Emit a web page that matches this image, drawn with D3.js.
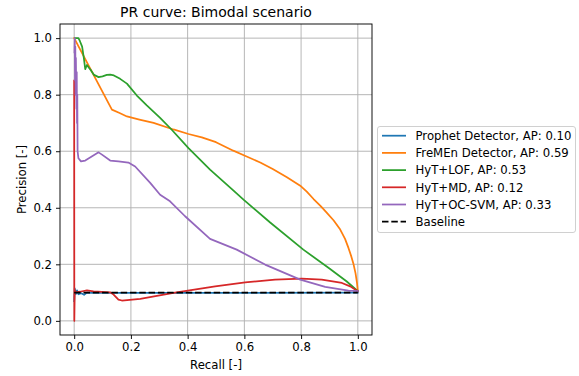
<!DOCTYPE html>
<html><head><meta charset="utf-8">
<script src="https://cdn.jsdelivr.net/npm/d3@7"></script>
<style>body{margin:0;background:#fff}svg{display:block;font-family:"DejaVu Sans",sans-serif}</style>
</head><body><svg id="c" width="579" height="376"></svg>
<script>
const title = "PR curve: Bimodal scenario";
const xLabel = "Recall [-]";
const yLabel = "Precision [-]";
const xTicks = [0, 0.2, 0.4, 0.6, 0.8, 1.0];
const yTicks = [0, 0.2, 0.4, 0.6, 0.8, 1.0];
const seriesNames = ["Prophet Detector, AP: 0.10","FreMEn Detector, AP: 0.59","HyT+LOF, AP: 0.53","HyT+MD, AP: 0.12","HyT+OC-SVM, AP: 0.33","Baseline"];
const seriesColors = ["#1f77b4","#ff7f0e","#2ca02c","#d62728","#9467bd","#000000"];

const prophet = [[0,0.07],[0.002,0.115],[0.006,0.095],[0.01,0.108],[0.015,0.094],[0.025,0.098],[0.035,0.092],[0.045,0.1],[0.1,0.099],[0.3,0.099],[0.6,0.099],[1.0,0.1]];
const fremen = [[0,1.0],[0.133,0.747],[0.16,0.735],[0.186,0.723],[0.23,0.712],[0.28,0.70],[0.35,0.677],[0.403,0.661],[0.45,0.649],[0.5,0.632],[0.561,0.602],[0.6,0.585],[0.656,0.56],[0.7,0.537],[0.75,0.508],[0.797,0.478],[0.82,0.457],[0.844,0.431],[0.87,0.405],[0.891,0.382],[0.915,0.355],[0.938,0.323],[0.955,0.29],[0.967,0.258],[0.977,0.228],[0.985,0.2],[0.992,0.168],[0.997,0.135],[1.0,0.105]];
const lof = [[0.003,1.0],[0.015,1.0],[0.02,0.99],[0.028,0.97],[0.034,0.93],[0.039,0.89],[0.045,0.905],[0.052,0.895],[0.06,0.885],[0.07,0.87],[0.086,0.862],[0.1,0.865],[0.115,0.87],[0.127,0.871],[0.14,0.868],[0.162,0.856],[0.186,0.839],[0.221,0.797],[0.256,0.762],[0.303,0.718],[0.344,0.676],[0.403,0.611],[0.479,0.535],[0.556,0.466],[0.597,0.429],[0.691,0.348],[0.808,0.252],[0.9,0.185],[0.96,0.14],[1.0,0.105]];
const md = [[0,0.85],[0.0005,0],[0.002,0.11],[0.004,0.101],[0.02,0.103],[0.045,0.108],[0.068,0.104],[0.127,0.101],[0.139,0.093],[0.156,0.075],[0.168,0.072],[0.233,0.078],[0.35,0.099],[0.497,0.122],[0.603,0.136],[0.708,0.146],[0.803,0.149],[0.873,0.146],[0.944,0.134],[0.973,0.122],[1.0,0.105]];
const ocsvm = [[0.001,0.95],[0.002,1.0],[0.003,0.85],[0.004,0.97],[0.005,0.80],[0.006,0.93],[0.008,0.75],[0.009,0.88],[0.010,0.70],[0.011,0.80],[0.012,0.60],[0.015,0.575],[0.024,0.564],[0.039,0.567],[0.086,0.596],[0.098,0.588],[0.127,0.567],[0.156,0.564],[0.191,0.56],[0.215,0.546],[0.268,0.488],[0.303,0.446],[0.338,0.423],[0.391,0.37],[0.479,0.29],[0.573,0.252],[0.673,0.199],[0.797,0.146],[0.885,0.12],[0.967,0.107],[1.0,0.105]];
const baseline = [[0,0.1],[1,0.1]];
const allSeries = [prophet, fremen, lof, md, ocsvm, baseline];

const svg = d3.select("#c");
const L = 60, R = 372, T = 24, B = 335;
const x = d3.scaleLinear().domain([-0.05, 1.05]).range([L, R]);
const y = d3.scaleLinear().domain([-0.05, 1.05]).range([B, T]);

const g = svg.append("g");
g.selectAll(".gx").data(xTicks).enter().append("line")
  .attr("x1", d => x(d)).attr("x2", d => x(d)).attr("y1", T).attr("y2", B)
  .attr("stroke", "#b0b0b0").attr("stroke-width", 0.93);
g.selectAll(".gy").data(yTicks).enter().append("line")
  .attr("y1", d => y(d)).attr("y2", d => y(d)).attr("x1", L).attr("x2", R)
  .attr("stroke", "#b0b0b0").attr("stroke-width", 0.93);

svg.append("clipPath").attr("id", "clip").append("rect").attr("x", L).attr("y", T).attr("width", R - L).attr("height", B - T);

const line = d3.line().x(d => x(d[0])).y(d => y(d[1]));
const lines = svg.append("g").attr("clip-path", "url(#clip)");
allSeries.forEach((s, i) => {
  lines.append("path").datum(s).attr("d", line).attr("fill", "none")
    .attr("stroke", seriesColors[i]).attr("stroke-width", 1.75)
    .attr("stroke-linejoin", "round").attr("stroke-linecap", i === 5 ? "butt" : "square")
    .attr("stroke-dasharray", i === 5 ? "6.5,2.8" : null);
});

const fs = "11.7px";
const xa = svg.append("g").attr("transform", `translate(0,${B})`)
  .call(d3.axisBottom(x).tickValues(xTicks).tickFormat(d3.format(".1f")).tickSize(4).tickPadding(4));
const ya = svg.append("g").attr("transform", `translate(${L},0)`)
  .call(d3.axisLeft(y).tickValues(yTicks).tickFormat(d3.format(".1f")).tickSize(4).tickPadding(4));
[xa, ya].forEach(a => {
  a.select(".domain").remove();
  a.selectAll("line").attr("stroke", "#000").attr("stroke-width", 0.93);
  a.selectAll("text").attr("font-size", fs).attr("font-family", "DejaVu Sans").attr("fill", "#000");
});
svg.append("rect").attr("x", L).attr("y", T).attr("width", R - L).attr("height", B - T)
  .attr("fill", "none").attr("stroke", "#000").attr("stroke-width", 0.93);

svg.append("text").attr("x", (L + R) / 2).attr("y", 17).attr("text-anchor", "middle")
  .attr("font-size", "14px").text(title);
svg.append("text").attr("x", (L + R) / 2).attr("y", 369).attr("text-anchor", "middle")
  .attr("font-size", fs).text(xLabel);
svg.append("text").attr("transform", `translate(26,${(T + B) / 2}) rotate(-90)`).attr("text-anchor", "middle")
  .attr("font-size", fs).text(yLabel);

const lg = svg.append("g");
lg.append("rect").attr("x", 377.5).attr("y", 126.5).attr("width", 198).attr("height", 106).attr("rx", 2.5)
  .attr("fill", "#fff").attr("fill-opacity", 0.8).attr("stroke", "#cccccc").attr("stroke-width", 0.93);
seriesNames.forEach((n, i) => {
  const yy = 135.7 + i * 17.2;
  lg.append("line").attr("x1", 382).attr("x2", 406).attr("y1", yy).attr("y2", yy)
    .attr("stroke", seriesColors[i]).attr("stroke-width", 1.75)
    .attr("stroke-dasharray", i === 5 ? "6.5,2.8" : null);
  lg.append("text").attr("x", 415.5).attr("y", yy + 4.2).attr("font-size", fs).text(n);
});
</script></body></html>
